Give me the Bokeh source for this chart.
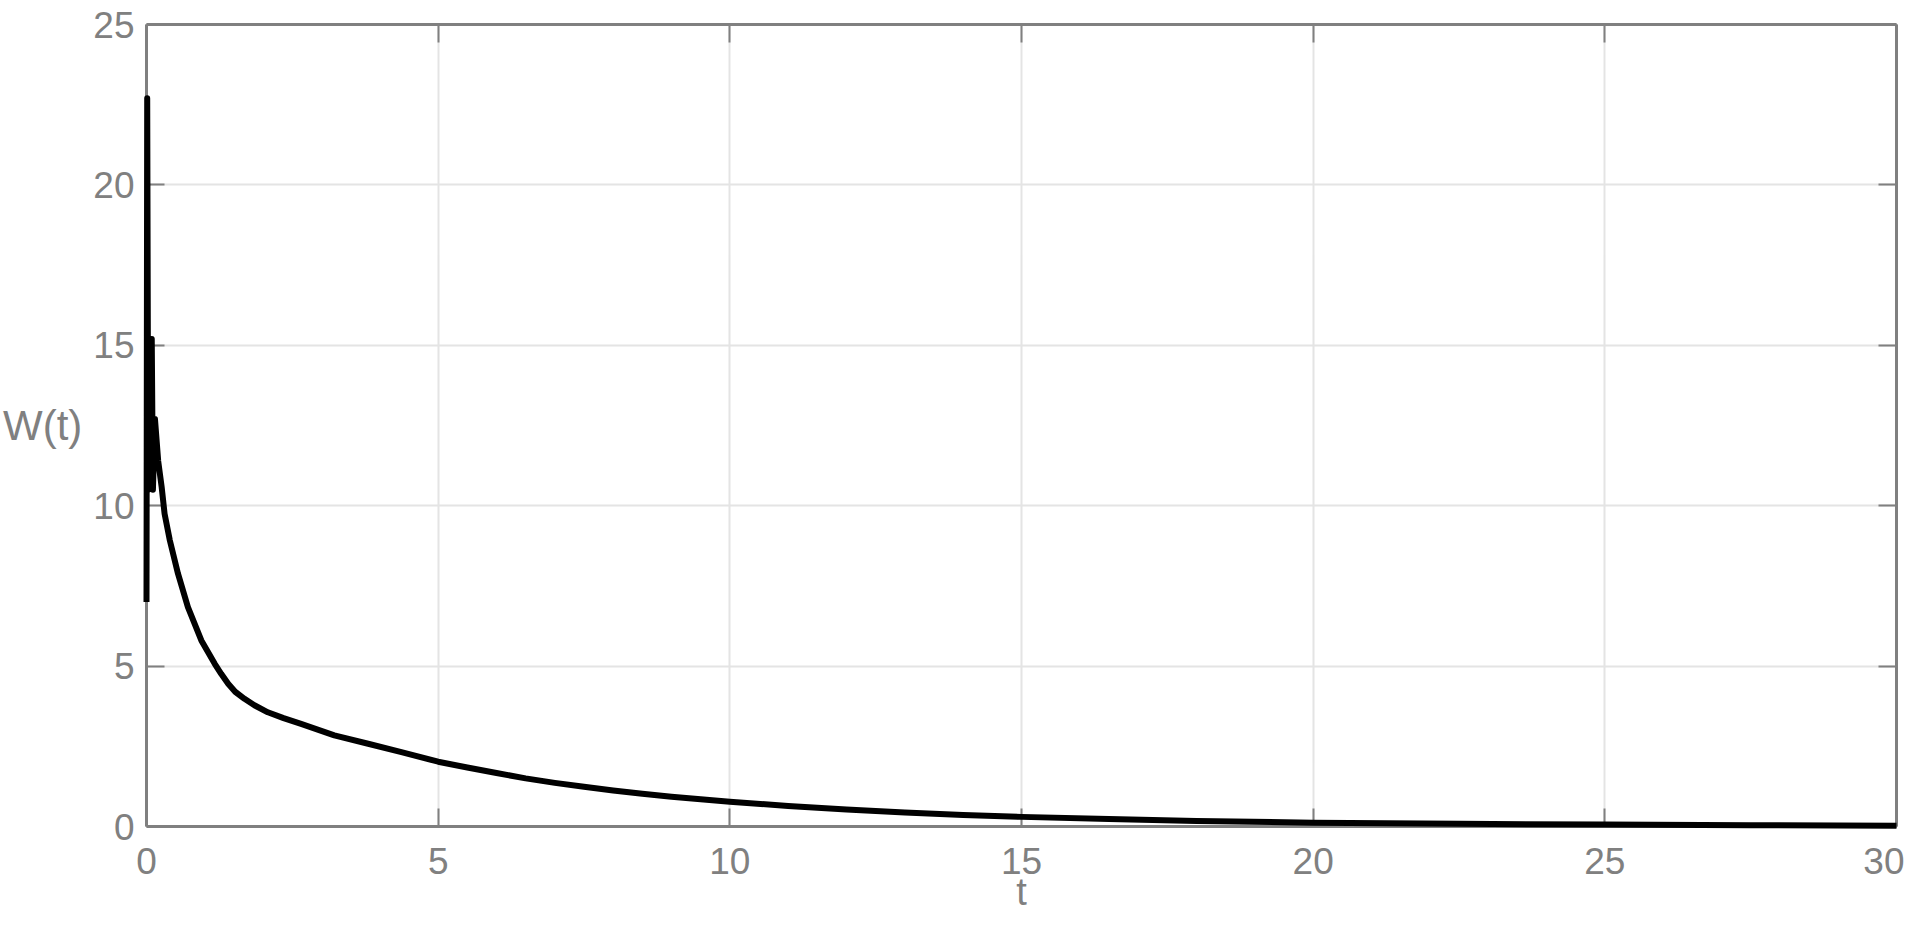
from bokeh.plotting import figure
from bokeh.models import Range1d, LinearAxis, FixedTicker, Grid
from bokeh.embed import file_html
from bokeh.resources import INLINE

# ---- data ----
t_vals = [0.0, 0.012, 0.03, 0.09, 0.11, 0.145, 0.20, 0.26, 0.31, 0.40, 0.54,
          0.71, 0.94, 1.17, 1.28, 1.40, 1.52, 1.68, 1.85, 2.08, 2.35,
          2.65, 3.22, 3.8, 4.37, 5.0, 5.5, 6.0, 6.5, 7.0, 7.5, 8.0, 8.5,
          9.0, 9.5, 10.0, 11.0, 12.0, 13.0, 14.0, 15.0, 16.5, 18.0, 20.0,
          22.5, 25.0, 27.5, 30.0]
w_vals = [7.0, 22.7, 10.5, 15.2, 10.5, 12.7, 11.4, 10.58, 9.75, 8.92, 7.88,
          6.84, 5.80, 5.07, 4.76, 4.45, 4.20, 3.98, 3.78, 3.56, 3.38,
          3.20, 2.84, 2.58, 2.32, 2.02, 1.84, 1.67, 1.50, 1.36, 1.24, 1.12, 1.02,
          0.93, 0.85, 0.77, 0.64, 0.53, 0.44, 0.36, 0.30, 0.23, 0.17, 0.12,
          0.085, 0.06, 0.04, 0.025]
x_ticks = [0, 5, 10, 15, 20, 25, 30]
y_ticks = [0, 5, 10, 15, 20, 25]

GRAY = "#808080"
FONT = "Liberation Sans"

p = figure(width=1904, height=929,
           x_range=Range1d(0, 30), y_range=Range1d(0, 25),
           output_backend="svg", toolbar_location=None,
           x_axis_location=None, y_axis_location=None,
           min_border_left=145, min_border_right=8,
           min_border_top=24, min_border_bottom=103)
p.outline_line_color = None
p.background_fill_color = "white"

def style(ax, ticks, show_labels, label_size="42px"):
    ax.ticker = FixedTicker(ticks=ticks)
    ax.axis_line_color = GRAY
    ax.axis_line_width = 3
    ax.major_tick_line_color = GRAY
    ax.major_tick_line_width = 2
    ax.major_tick_in = 18
    ax.major_tick_out = 0
    ax.minor_tick_line_color = None
    if show_labels:
        ax.major_label_text_color = GRAY
        ax.major_label_text_font = FONT
        ax.major_label_text_font_size = "37px"
        ax.axis_label_text_color = GRAY
        ax.axis_label_text_font = FONT
        ax.axis_label_text_font_size = label_size
        ax.axis_label_text_font_style = "normal"
    else:
        ax.major_label_text_font_size = "1px"
        ax.major_label_text_color = None
        ax.major_label_standoff = 0

xb = LinearAxis(axis_label="t")
style(xb, x_ticks, True, "38px")
xb.major_label_standoff = 21
xb.axis_label_standoff = -6
p.add_layout(xb, "below")

yl = LinearAxis(axis_label="W(t)")
style(yl, y_ticks, True, "42px")
yl.major_label_standoff = 12
yl.axis_label_standoff = 8
yl.axis_label_orientation = "horizontal"
p.add_layout(yl, "left")

xt = LinearAxis()
style(xt, x_ticks, False)
p.add_layout(xt, "above")

yr = LinearAxis()
style(yr, y_ticks, False)
p.add_layout(yr, "right")

p.xgrid.grid_line_color = None
p.ygrid.grid_line_color = None
p.add_layout(Grid(dimension=0, ticker=FixedTicker(ticks=x_ticks),
                  grid_line_color="#e4e4e4", grid_line_width=2))
p.add_layout(Grid(dimension=1, ticker=FixedTicker(ticks=y_ticks),
                  grid_line_color="#e4e4e4", grid_line_width=2))

p.line(t_vals, w_vals, line_color="black", line_width=6,
       line_join="round", line_cap="butt", level="overlay")

open("out.html", "w").write(file_html(p, INLINE))
